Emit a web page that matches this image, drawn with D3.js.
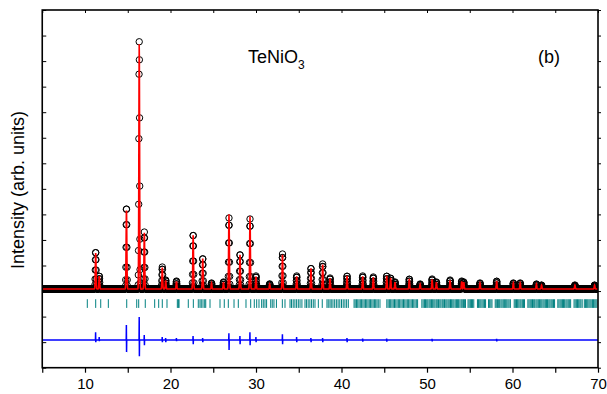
<!DOCTYPE html>
<html>
<head>
<meta charset="utf-8">
<script src="https://cdn.jsdelivr.net/npm/d3@7"></script>
<style>
  body { margin: 0; background: #fff; }
  text { font-family: Arial, "Liberation Sans", sans-serif; }
</style>
</head>
<body>
<svg id="chart" width="607" height="394"></svg>
<script>
const peakPos    = [11.25, 11.67, 14.85, 16.343, 16.94, 19.04, 19.44, 20.7, 22.65, 23.77, 24.8, 26.2, 26.84, 28.13, 29.3, 30.0, 31.6, 33.1, 34.76, 36.43, 37.8, 38.66, 40.65, 42.48, 43.72, 45.29, 45.75, 46.26, 47.93, 49.2, 50.6, 51.1, 52.7, 54.06, 54.3, 56.2, 58.15, 60.1, 60.9, 62.8, 63.4, 67.3, 69.6];
const obsHeight  = [1460, 510, 3210, 9700, 2230, 860, 350, 310, 2150, 1210, 235, 275, 2780, 1370, 2740, 510, 200, 1370, 510, 820, 980, 430, 510, 510, 470, 510, 430, 275, 390, 195, 390, 275, 350, 310, 275, 235, 310, 235, 235, 195, 155, 155, 155];
const calcHeight = [1420, 490, 3120, 9600, 2200, 840, 340, 300, 2130, 1190, 230, 270, 2930, 1350, 2850, 490, 190, 1340, 500, 800, 960, 420, 500, 500, 460, 500, 420, 270, 380, 190, 380, 270, 340, 300, 270, 230, 300, 230, 230, 190, 150, 150, 150];
const background = 80;

// difference curve spikes (counts up / down)
const diffPos  = [11.25, 11.67, 14.85, 16.35, 16.94, 19.04, 19.44, 20.7, 22.65, 23.77, 26.84, 28.13, 29.3, 30.0, 33.1, 34.76, 36.43, 37.8, 40.65, 42.48, 45.29, 50.6, 58.15];
const diffUp   = [310, 120, 590, 900, 200, 120, 80, 80, 160, 80, 270, 160, 310, 120, 230, 120, 80, 80, 80, 60, 60, 50, 50];
const diffDown = [80, 40, 470, 630, 200, 80, 80, 40, 160, 80, 390, 160, 200, 80, 160, 80, 80, 80, 80, 60, 60, 50, 50];

// Bragg reflection positions
const braggPos = [10.27, 11.25, 11.84, 12.73, 14.88, 16.05, 16.28, 17.05, 18.15, 18.62, 19.04, 19.59, 20.8, 20.92, 21.0, 22.08, 22.67, 23.25, 23.45, 23.6, 23.8, 24.0, 24.12, 24.62, 25.79, 26.29, 26.76, 27.43, 27.93, 28.83, 29.38, 29.8, 30.08, 30.35, 30.66, 30.85, 31.05, 31.24, 31.72, 31.9, 32.1, 32.39, 33.08, 33.39, 33.98, 34.15, 34.35, 34.55, 34.75, 34.95, 35.15, 35.37, 35.73, 35.9, 36.1, 36.3, 36.5, 36.7, 36.9, 37.29, 37.75, 38.3, 38.45, 38.65, 38.8, 39.0, 39.2, 39.4, 39.6, 39.8, 40.0, 40.2, 40.4, 40.6, 40.8, 41.47, 41.6, 41.75, 41.9, 42.05, 42.2, 42.35, 42.5, 42.65, 42.8, 42.95, 43.1, 43.25, 43.4, 43.55, 43.7, 43.85, 44.0, 44.15, 44.3, 44.5, 45.3, 45.45, 45.6, 45.75, 45.9, 46.05, 46.2, 46.35, 46.5, 46.65, 46.8, 46.95, 47.1, 47.25, 47.4, 47.55, 47.7, 47.85, 48.0, 48.15, 48.3, 48.45, 48.6, 48.75, 48.9, 49.4, 49.55, 49.7, 49.82, 49.97, 50.1, 50.25, 50.38, 50.52, 50.66, 50.8, 50.93, 51.08, 51.2, 51.35, 51.5, 51.63, 51.78, 51.9, 52.05, 52.2, 52.33, 52.47, 52.6, 52.75, 52.88, 53.02, 53.15, 53.3, 53.44, 53.58, 53.7, 53.85, 54.0, 54.12, 54.26, 54.4, 54.5, 54.8, 54.93, 55.07, 55.2, 55.33, 55.47, 55.9, 56.03, 56.17, 56.3, 56.44, 56.58, 56.72, 56.85, 57.2, 57.33, 57.47, 57.6, 57.98, 58.1, 58.24, 58.38, 58.5, 58.65, 58.78, 58.92, 59.05, 59.2, 59.33, 59.47, 59.6, 59.75, 60.2, 60.33, 60.47, 60.6, 60.74, 60.88, 61.0, 61.15, 61.28, 61.4, 61.8, 61.93, 62.07, 62.2, 62.34, 62.48, 62.6, 62.75, 62.88, 63.02, 63.15, 63.3, 63.43, 63.57, 63.7, 63.84, 63.97, 64.1, 64.25, 64.38, 64.52, 64.65, 64.8, 64.92, 65.3, 65.43, 65.57, 65.7, 65.84, 65.97, 66.1, 66.25, 66.38, 66.52, 66.65, 66.8, 67.2, 67.33, 67.47, 67.6, 67.74, 67.88, 68.0, 68.15, 68.4, 68.53, 68.67, 68.8, 68.94, 69.07, 69.2, 69.35, 69.48, 69.62, 69.75, 69.88];

const xLabels = [10, 20, 30, 40, 50, 60, 70];

const width = 607;
const height = 394;
const plot = {left: 42.25, right: 598, top: 10, bottom: 367.7};
const sigma = 0.043;        // peak width (deg)
const stepSize = 0.02;      // scan step (deg)
const diffOffset = -1920;   // where the difference curve sits
const braggTop = -320, braggBottom = -660;

const svg = d3.select("#chart");

const x = d3.scaleLinear().domain([5, 70]).range([plot.left, plot.right]);
const y = d3.scaleLinear().domain([-3000, 11000]).range([plot.bottom, plot.top]);

// build the scan from the peak table
const nSteps = Math.round((70 - 5) / stepSize);
const scan = d3.range(nSteps + 1).map(i => {
  const t = 5 + i * stepSize;
  let obs = background, calc = background;
  peakPos.forEach((p, k) => {
    const g = Math.exp(-0.5 * Math.pow((t - p) / sigma, 2));
    obs += obsHeight[k] * g;
    calc += calcHeight[k] * g;
  });
  return {t, obs, calc};
});

svg.append("clipPath").attr("id", "clip")
  .append("rect")
  .attr("x", plot.left).attr("y", plot.top)
  .attr("width", plot.right - plot.left).attr("height", plot.bottom - plot.top);

const g = svg.append("g").attr("clip-path", "url(#clip)");

// observed points
g.append("g")
  .selectAll("circle")
  .data(scan)
  .enter()
  .append("circle")
  .attr("cx", d => x(d.t))
  .attr("cy", d => y(d.obs))
  .attr("r", 3.2)
  .attr("fill", "none")
  .attr("stroke", "#000")
  .attr("stroke-width", 1);

// calculated profile
g.append("path")
  .datum(scan)
  .attr("d", d3.line().x(d => x(d.t)).y(d => y(d.calc)))
  .attr("fill", "none")
  .attr("stroke", "#ff0000")
  .attr("stroke-width", 1.6);

// Bragg positions
g.append("g")
  .selectAll("line")
  .data(braggPos)
  .enter()
  .append("line")
  .attr("x1", d => x(d)).attr("x2", d => x(d))
  .attr("y1", y(braggTop)).attr("y2", y(braggBottom))
  .attr("stroke", "#008080")
  .attr("stroke-width", 1);

// difference curve
const diffPts = [[5, 0]];
diffPos.forEach((p, k) => {
  diffPts.push([p - 0.03, 0], [p - 0.01, diffUp[k]], [p + 0.01, -diffDown[k]], [p + 0.03, 0]);
});
diffPts.push([70, 0]);

g.append("path")
  .datum(diffPts)
  .attr("d", d3.line().x(d => x(d[0])).y(d => y(diffOffset + d[1])))
  .attr("fill", "none")
  .attr("stroke", "#0000ff")
  .attr("stroke-width", 1.5);

// axes
const fiveTicks = d3.range(5, 71, 5);

svg.append("g")
  .attr("transform", `translate(0,${plot.bottom})`)
  .call(d3.axisBottom(x).tickValues(fiveTicks).tickSize(5).tickPadding(6)
    .tickFormat(d => xLabels.includes(d) ? d : ""))
  .call(a => a.select(".domain").remove())
  .call(a => a.selectAll("line").attr("stroke-width", 1.2))
  .call(a => a.selectAll("text").attr("font-size", 15).attr("fill", "#000")
    .style("font-family", "Arial, 'Liberation Sans', sans-serif"));

svg.append("g")
  .attr("transform", `translate(0,${plot.top})`)
  .call(d3.axisTop(x).tickValues(fiveTicks).tickSize(-3).tickFormat(""))
  .call(a => a.select(".domain").remove());

const yTicks = d3.range(-3000, 11001, 1000);
svg.append("g")
  .attr("transform", `translate(${plot.left},0)`)
  .call(d3.axisLeft(y).tickValues(yTicks).tickSize(-4).tickFormat(""))
  .call(a => a.select(".domain").remove());

svg.append("g")
  .attr("transform", `translate(${plot.right},0)`)
  .call(d3.axisRight(y).tickValues(yTicks).tickSize(3).tickFormat(""))
  .call(a => a.select(".domain").remove());

svg.append("rect")
  .attr("x", plot.left).attr("y", plot.top)
  .attr("width", plot.right - plot.left).attr("height", plot.bottom - plot.top)
  .attr("fill", "none")
  .attr("stroke", "#000")
  .attr("stroke-width", 1.6);

// labels
svg.append("text")
  .attr("transform", "translate(24,190) rotate(-90)")
  .attr("text-anchor", "middle")
  .attr("font-size", 18)
  .text("Intensity (arb. units)");

const title = svg.append("text")
  .attr("x", 248)
  .attr("y", 62.5)
  .attr("font-size", 18);
title.append("tspan").text("TeNiO");
title.append("tspan").attr("font-size", 12).attr("dy", 6.5).text("3");

svg.append("text")
  .attr("x", 538)
  .attr("y", 62.5)
  .attr("font-size", 18)
  .text("(b)");
</script>
</body>
</html>
